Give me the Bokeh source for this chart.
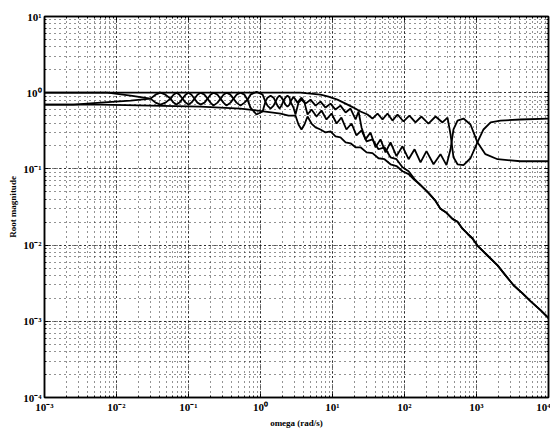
from bokeh.plotting import figure
from bokeh.models import LogAxis, CustomJSTickFormatter, LogTicker
from bokeh.embed import file_html
from bokeh.resources import INLINE

# ---- data (omega in rad/s, root magnitude) ----
omega_a = [0.001, 3.59, 4.95, 6.81, 8.80, 11.7, 15.2, 19.6, 24.5, 30.6, 35.9, 42.2, 49.5, 58.1,
           68.1, 80.0, 96.8, 117, 142, 172, 215, 270, 337, 396, 436, 479, 545, 660, 825, 1030,
           1250, 1570, 2150, 4080, 10000]
mag_a = [1.0, 1.0, 0.970, 0.942, 0.887, 0.810, 0.719, 0.638, 0.566, 0.517, 0.458, 0.533, 0.445, 0.533,
         0.431, 0.517, 0.419, 0.501, 0.407, 0.487, 0.394, 0.487, 0.407, 0.472, 0.284, 0.142, 0.115, 0.112, 0.138, 0.223,
         0.329, 0.407, 0.431, 0.445, 0.458]

omega_b = [0.001, 0.0075, 0.0157, 0.0297, 0.0348, 0.0408, 0.0479, 0.0562, 0.0619, 0.0681,
           0.0750, 0.0825, 0.0909, 0.100, 0.110, 0.121, 0.133, 0.147, 0.167, 0.184,
           0.202, 0.222, 0.253, 0.278, 0.306, 0.337, 0.383, 0.422, 0.464, 0.527,
           0.599, 0.660, 0.726, 0.880, 1.07, 1.17, 1.25, 1.38, 1.52, 1.62,
           1.72, 1.84, 1.96, 2.09, 2.22, 2.37, 2.53, 2.61, 2.87, 3.27,
           3.71, 4.22, 4.95, 5.81, 6.81, 8.00, 9.38, 11.0, 12.9, 15.2,
           17.8, 20.9, 23.0, 25.3, 28.7, 33.7, 39.6, 46.4, 54.5, 63.9,
           77.4, 93.8, 114, 138, 167, 202, 253, 316, 383, 436,
           479, 545, 660, 825, 1030, 1330, 1960, 4080, 10000]
mag_b = [1.0, 1.0, 0.914, 0.835, 0.741, 0.698, 0.741, 0.835, 0.942, 1.0,
         0.942, 0.835, 0.741, 0.698, 0.741, 0.835, 0.942, 1.0, 0.942, 0.835,
         0.741, 0.677, 0.741, 0.835, 0.942, 1.0, 0.942, 0.835, 0.741, 0.677,
         0.741, 0.810, 0.942, 1.03, 0.942, 0.763, 0.677, 0.619, 0.677, 0.763,
         0.861, 0.914, 0.861, 0.787, 0.698, 0.657, 0.698, 0.763, 0.887, 0.741,
         0.861, 0.719, 0.810, 0.677, 0.763, 0.638, 0.719, 0.601, 0.677, 0.549,
         0.619, 0.445, 0.566, 0.350, 0.244, 0.301, 0.192, 0.244, 0.165, 0.223,
         0.147, 0.198, 0.134, 0.181, 0.122, 0.171, 0.115, 0.156, 0.112, 0.181,
         0.329, 0.431, 0.458, 0.383, 0.223, 0.156, 0.134, 0.126, 0.126]

omega_c = [0.001, 0.00253, 0.0060, 0.0157, 0.0297, 0.0348, 0.0408, 0.0479, 0.0562, 0.0619,
           0.0681, 0.0750, 0.0825, 0.0909, 0.100, 0.110, 0.121, 0.133, 0.147, 0.167,
           0.184, 0.202, 0.222, 0.253, 0.278, 0.306, 0.337, 0.383, 0.422, 0.464,
           0.527, 0.599, 0.660, 0.726, 0.880, 1.07, 1.17, 1.25, 1.38, 1.52,
           1.62, 1.72, 1.84, 1.96, 2.09, 2.22, 2.37, 2.53, 2.61, 2.87,
           3.06, 3.37, 3.71, 4.08, 4.50, 5.11, 6.00, 7.03, 8.25, 9.69,
           11.4, 13.3, 15.6, 18.4, 21.5, 25.3, 29.7, 35.9, 43.5, 52.7,
           63.9, 77.4, 93.8, 114, 138, 167, 209, 270, 316, 383,
           464, 545, 639, 750, 880, 1030, 1420, 1960, 2530, 3270,
           4360, 5620, 7740, 10000]
mag_c = [0.698, 0.698, 0.741, 0.787, 0.835, 0.942, 1.0, 0.942, 0.835, 0.741,
         0.698, 0.741, 0.835, 0.942, 1.0, 0.942, 0.835, 0.741, 0.698, 0.741,
         0.835, 0.942, 1.0, 0.942, 0.835, 0.741, 0.677, 0.741, 0.835, 0.942,
         1.0, 0.942, 0.810, 0.638, 0.517, 0.566, 0.763, 0.861, 0.914, 0.861,
         0.763, 0.677, 0.619, 0.677, 0.787, 0.861, 0.914, 0.861, 0.763, 0.638,
         0.517, 0.741, 0.810, 0.741, 0.517, 0.601, 0.487, 0.583, 0.445, 0.533,
         0.394, 0.472, 0.329, 0.394, 0.275, 0.320, 0.230, 0.244, 0.181, 0.192,
         0.142, 0.134, 0.105, 0.0933, 0.0735, 0.0614, 0.0498, 0.0380, 0.0299, 0.0265,
         0.0221, 0.0202, 0.0164, 0.0141, 0.0122, 0.00985, 0.00730, 0.00541, 0.00401, 0.00297,
         0.00233, 0.00184, 0.00140, 0.00110]

omega_d = [0.001, 0.0060, 0.0297, 0.147, 0.527, 1.17, 1.90, 2.45, 3.06, 3.37,
           3.71, 4.08, 4.50, 5.11, 5.81, 6.81, 8.00, 9.38, 11.0, 12.9,
           15.2, 17.8, 20.9, 24.5, 29.7, 35.9, 43.5, 52.7, 63.9, 77.4,
           93.8, 114, 138, 167, 209, 270, 316, 383, 464, 545,
           639, 750, 880, 1030, 1420, 1960, 2530, 3270, 4360, 5620,
           7740, 10000]
mag_d = [0.698, 0.698, 0.677, 0.657, 0.619, 0.566, 0.533, 0.501, 0.501, 0.383,
         0.329, 0.383, 0.487, 0.394, 0.350, 0.329, 0.301, 0.310, 0.267, 0.259,
         0.223, 0.217, 0.192, 0.192, 0.165, 0.161, 0.138, 0.134, 0.115, 0.109,
         0.0933, 0.0854, 0.0714, 0.0614, 0.0498, 0.0380, 0.0299, 0.0265, 0.0221, 0.0202,
         0.0164, 0.0141, 0.0122, 0.00985, 0.00730, 0.00541, 0.00401, 0.00297, 0.00233, 0.00184,
         0.00140, 0.00110]

x_label = "omega (rad/s)"
y_label = "Root magnitude"

FONT = "Liberation Serif"

p = figure(width=550, height=430, x_axis_type="log", y_axis_type="log",
           x_range=(1e-3, 1e4), y_range=(1e-4, 10),
           output_backend="svg", toolbar_location=None,
           min_border_left=44, min_border_right=2, min_border_top=16, min_border_bottom=31,
           background_fill_color="white", border_fill_color="white")

p.outline_line_color = "black"
p.outline_line_width = 1.5

sup_fmt = CustomJSTickFormatter(code="""
const sup = {'-':'\u207b','0':'\u2070','1':'\u00b9','2':'\u00b2','3':'\u00b3','4':'\u2074',
             '5':'\u2075','6':'\u2076','7':'\u2077','8':'\u2078','9':'\u2079'};
const e = Math.round(Math.log10(tick));
return '10' + String(e).split('').map(c => sup[c]).join('');
""")

for ax in (p.xaxis[0], p.yaxis[0]):
    ax.ticker = LogTicker(num_minor_ticks=10)
    ax.formatter = sup_fmt
    ax.major_tick_in = 4
    ax.major_tick_out = 0
    ax.minor_tick_in = 2
    ax.minor_tick_out = 0
    ax.axis_line_color = "black"
    ax.axis_line_width = 1.5
    ax.major_label_text_font = FONT
    ax.major_label_text_font_style = "bold"
    ax.major_label_text_font_size = "11px"
    ax.major_label_text_color = "black"
    ax.major_label_standoff = 3
    ax.axis_label_text_font = FONT
    ax.axis_label_text_font_style = "bold"
    ax.axis_label_text_font_size = "9px"
    ax.axis_label_text_color = "black"
    ax.axis_label_standoff = 2

p.xaxis[0].axis_label = x_label
p.yaxis[0].axis_label = y_label
p.yaxis[0].major_label_orientation = "horizontal"

blank = CustomJSTickFormatter(code="return '';")
for loc in ("right", "above"):
    extra = LogAxis(ticker=LogTicker(num_minor_ticks=10), formatter=blank,
                    major_tick_in=4, major_tick_out=0, minor_tick_in=2, minor_tick_out=0,
                    axis_line_color="black", axis_line_width=1.5,
                    major_label_standoff=0, major_label_text_font_size="1px")
    p.add_layout(extra, loc)

for g in (p.xgrid[0], p.ygrid[0]):
    g.ticker = LogTicker(num_minor_ticks=10)
    g.grid_line_color = "black"
    g.grid_line_dash = "1 3"
    g.grid_line_alpha = 1.0
    g.minor_grid_line_color = "black"
    g.minor_grid_line_dash = "1 4"
    g.minor_grid_line_alpha = 0.85

for xs, ys in ((omega_a, mag_a), (omega_b, mag_b), (omega_c, mag_c), (omega_d, mag_d)):
    p.line(xs, ys, line_color="black", line_width=1.8)

open("out.html", "w").write(file_html(p, INLINE))
